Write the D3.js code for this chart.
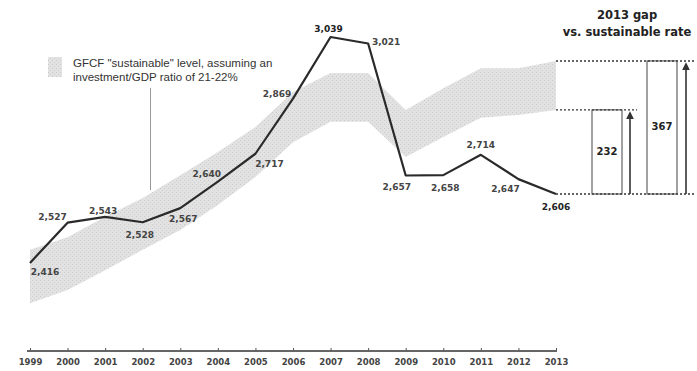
<!DOCTYPE html>
<html>
<head>
<meta charset="utf-8">
<script src="https://cdnjs.cloudflare.com/ajax/libs/d3/7.8.5/d3.min.js"></script>
<style>
  body { margin: 0; background: #fff; }
  svg { display: block; }
</style>
</head>
<body>
<div id="chart"></div>
<script>
// data
var years = ["1999", "2000", "2001", "2002", "2003", "2004", "2005", "2006", "2007", "2008", "2009", "2010", "2011", "2012", "2013"];
var gfcf = [2416, 2527, 2543, 2528, 2567, 2640, 2717, 2869, 3039, 3021, 2657, 2658, 2714, 2647, 2606];
// sustainable band (investment/GDP 21% .. 22%)
var bandLow = [2305, 2341, 2396, 2452, 2507, 2576, 2653, 2749, 2805, 2805, 2708, 2763, 2816, 2824, 2838];
var bandHigh = [2452, 2487, 2543, 2595, 2658, 2722, 2791, 2887, 2940, 2940, 2838, 2898, 2953, 2953, 2973];
var legendLines = ["GFCF \"sustainable\" level, assuming an", "investment/GDP ratio of 21-22%"];
var gapTitle = ["2013 gap", "vs. sustainable rate"];

// label placement relative to each point [dx, dy]
var labelOff = [[15, 10], [-15, -5], [-2, -5], [-3, 13], [3, 11], [-11, -7], [14, 11], [-16, -4],
                [-2, -8], [18, -1], [-9, 12], [2, 13], [0, -9], [-13, 10], [0, 13]];

var width = 697, height = 371;
var svg = d3.select("#chart").append("svg")
    .attr("width", width)
    .attr("height", height);

var x = d3.scalePoint().domain(years).range([30, 556]);
var y = d3.scaleLinear().domain([2173, 3039]).range([351, 37]);

var defs = svg.append("defs");
var pat = defs.append("pattern")
    .attr("id", "dots")
    .attr("width", 4).attr("height", 4)
    .attr("patternUnits", "userSpaceOnUse");
pat.append("rect").attr("width", 4).attr("height", 4).attr("fill", "#e2e2e2");
pat.append("rect").attr("x", 0).attr("y", 0).attr("width", 1).attr("height", 1).attr("fill", "#cacaca");
pat.append("rect").attr("x", 2).attr("y", 2).attr("width", 1).attr("height", 1).attr("fill", "#d0d0d0");

defs.append("marker")
    .attr("id", "arrow")
    .attr("viewBox", "0 0 10 10")
    .attr("refX", 8).attr("refY", 5)
    .attr("markerWidth", 5).attr("markerHeight", 5)
    .attr("orient", "auto")
    .append("path")
    .attr("d", "M0,0 L10,5 L0,10 Z")
    .attr("fill", "#333");

var band = years.map(function (yr, i) { return { yr: yr, lo: bandLow[i], hi: bandHigh[i] }; });
var pts = years.map(function (yr, i) { return { yr: yr, v: gfcf[i], off: labelOff[i] }; });

// band
var area = d3.area()
    .x(function (d) { return x(d.yr); })
    .y0(function (d) { return y(d.lo); })
    .y1(function (d) { return y(d.hi); });
svg.append("path")
    .datum(band)
    .attr("d", area)
    .attr("fill", "url(#dots)");

// legend
svg.append("rect")
    .attr("x", 48).attr("y", 57)
    .attr("width", 14).attr("height", 20)
    .attr("fill", "url(#dots)");
svg.append("g").selectAll("text")
    .data(legendLines)
    .enter().append("text")
    .attr("x", 73)
    .attr("y", function (d, i) { return 67 + i * 14; })
    .attr("font-family", "Liberation Sans, Arial, sans-serif")
    .attr("font-size", "11.5px")
    .attr("fill", "#333")
    .text(function (d) { return d; });
// pointer from legend into band
svg.append("line")
    .attr("x1", 150.5).attr("x2", 150.5)
    .attr("y1", 88).attr("y2", 190)
    .attr("stroke", "#999").attr("stroke-width", 1);

// x axis
var xAxis = d3.axisBottom(x).tickSize(-3).tickPadding(8);
var gx = svg.append("g")
    .attr("transform", "translate(0," + y.range()[0] + ")")
    .call(xAxis);
gx.select(".domain").attr("d", "M27,0H557").attr("stroke", "#333").attr("stroke-width", 1.6);
gx.selectAll(".tick line").attr("stroke", "#555");
gx.selectAll(".tick text")
    .attr("font-family", "DejaVu Sans, Verdana, sans-serif")
    .attr("font-weight", "bold")
    .attr("font-size", "8.5px")
    .attr("fill", "#444");

// GFCF line
var line = d3.line()
    .x(function (d) { return x(d.yr); })
    .y(function (d) { return y(d.v); });
svg.append("path")
    .datum(pts)
    .attr("d", line)
    .attr("fill", "none")
    .attr("stroke", "#2a2a2a")
    .attr("stroke-width", 2.2)
    .attr("stroke-linejoin", "round");

var fmt = d3.format(",");
svg.append("g").selectAll("text")
    .data(pts)
    .enter().append("text")
    .attr("x", function (d) { return x(d.yr) + d.off[0]; })
    .attr("y", function (d) { return y(d.v) + d.off[1]; })
    .attr("text-anchor", "middle")
    .attr("dominant-baseline", "middle")
    .attr("font-family", "DejaVu Sans, Verdana, sans-serif")
    .attr("font-weight", "bold")
    .attr("font-size", "9px")
    .attr("fill", function (d, i) { return (i === 8 || i === 14) ? "#222" : "#444"; })
    .text(function (d) { return fmt(d.v); });

// 2013 gap annotation
var last = years.length - 1;
var vNow = gfcf[last], vHi = bandHigh[last], vLo = bandLow[last];
var xEnd = x(years[last]);

svg.append("g").selectAll("text")
    .data(gapTitle)
    .enter().append("text")
    .attr("x", 627)
    .attr("y", function (d, i) { return 19 + i * 17; })
    .attr("text-anchor", "middle")
    .attr("font-family", "DejaVu Sans, Verdana, sans-serif")
    .attr("font-weight", "bold")
    .attr("font-size", "11.5px")
    .attr("fill", "#222")
    .text(function (d) { return d; });

var dash = svg.append("g")
    .attr("stroke", "#333")
    .attr("stroke-width", 1.4)
    .attr("stroke-dasharray", "2,2");
dash.append("line").attr("x1", xEnd).attr("x2", 695).attr("y1", y(vHi)).attr("y2", y(vHi));
dash.append("line").attr("x1", xEnd).attr("x2", 637).attr("y1", y(vLo)).attr("y2", y(vLo));
dash.append("line").attr("x1", xEnd).attr("x2", 695).attr("y1", y(vNow)).attr("y2", y(vNow));

var gaps = [
  { v: vLo - vNow, top: vLo, x0: 592, x1: 622, ax: 630 },
  { v: vHi - vNow, top: vHi, x0: 647, x1: 677, ax: 686 }
];
var gg = svg.append("g").selectAll("g").data(gaps).enter().append("g");
gg.append("rect")
    .attr("x", function (d) { return d.x0; })
    .attr("y", function (d) { return y(d.top); })
    .attr("width", function (d) { return d.x1 - d.x0; })
    .attr("height", function (d) { return y(vNow) - y(d.top); })
    .attr("fill", "none")
    .attr("stroke", "#444")
    .attr("stroke-width", 1);
gg.append("line")
    .attr("x1", function (d) { return d.ax; })
    .attr("x2", function (d) { return d.ax; })
    .attr("y1", y(vNow))
    .attr("y2", function (d) { return y(d.top) + 3; })
    .attr("stroke", "#333")
    .attr("stroke-width", 1.6)
    .attr("marker-end", "url(#arrow)");
gg.append("text")
    .attr("x", function (d) { return (d.x0 + d.x1) / 2; })
    .attr("y", function (d) { return (y(d.top) + y(vNow)) / 2; })
    .attr("text-anchor", "middle")
    .attr("dominant-baseline", "middle")
    .attr("font-family", "DejaVu Sans, Verdana, sans-serif")
    .attr("font-weight", "bold")
    .attr("font-size", "10px")
    .attr("fill", "#222")
    .text(function (d) { return d.v; });
</script>
</body>
</html>
